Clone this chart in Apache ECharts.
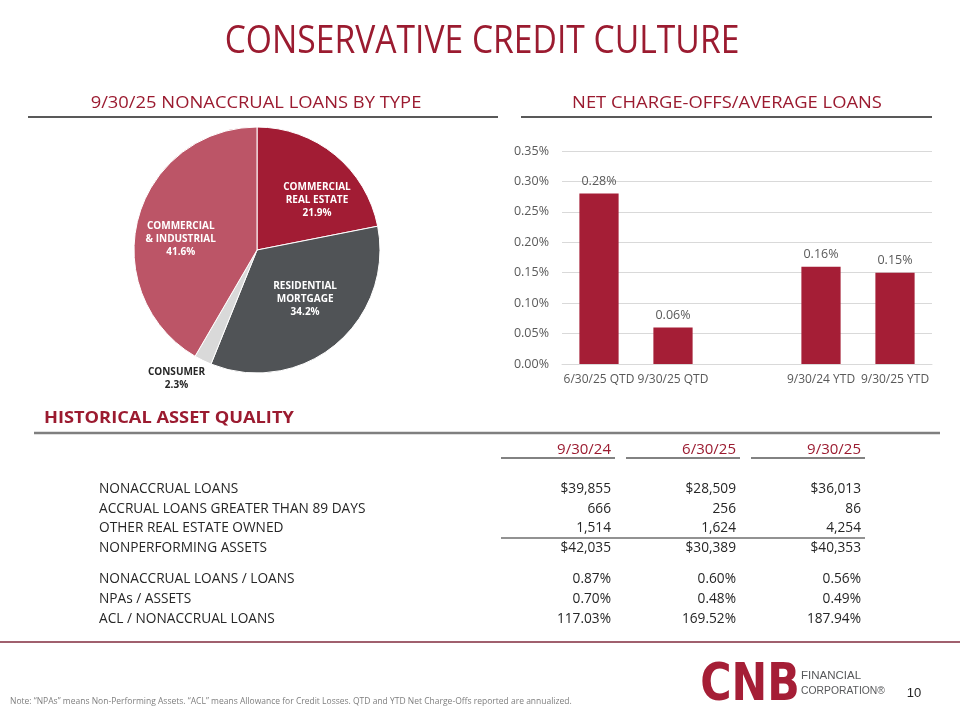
<!DOCTYPE html>
<html>
<head>
<meta charset="utf-8">
<script src="https://cdn.jsdelivr.net/npm/echarts@6/dist/echarts.min.js"></script>
<style>
  html, body { margin: 0; padding: 0; background: #fff; }
  #main { width: 960px; height: 720px; }
</style>
</head>
<body>
<div id="main"></div>
<script>
// pie: 9/30/25 nonaccrual loans by type (%)
var pieNames = ['COMMERCIAL\nREAL ESTATE', 'RESIDENTIAL\nMORTGAGE', 'CONSUMER', 'COMMERCIAL\n& INDUSTRIAL'];
var pieValues = [21.9, 34.2, 2.3, 41.6];
var pieColors = ['#a21c34', '#505356', '#d9d9d9', '#bc5567'];

// bars: net charge-offs / average loans (%)
var barCategories = ['6/30/25 QTD', '9/30/25 QTD', '', '9/30/24 YTD', '9/30/25 YTD'];
var barValues = [0.28, 0.06, null, 0.16, 0.15];

// historical asset quality table
var tableHeaders = ['9/30/24', '6/30/25', '9/30/25'];
var tableRows = [
  'NONACCRUAL LOANS',
  'ACCRUAL LOANS GREATER THAN 89 DAYS',
  'OTHER REAL ESTATE OWNED',
  'NONPERFORMING ASSETS',
  'NONACCRUAL LOANS / LOANS',
  'NPAs / ASSETS',
  'ACL / NONACCRUAL LOANS'
];
var col2024Q3 = ['$39,855', '666', '1,514', '$42,035', '0.87%', '0.70%', '117.03%'];
var col2025Q2 = ['$28,509', '256', '1,624', '$30,389', '0.60%', '0.48%', '169.52%'];
var col2025Q3 = ['$36,013', '86', '4,254', '$40,353', '0.56%', '0.49%', '187.94%'];

var RED = '#9b1b30';
var FONT = "'Open Sans', 'Noto Sans', sans-serif";
var ARIAL = "'Liberation Sans', Arial, sans-serif";
var pieCenter = [257, 250];

var chart = echarts.init(document.getElementById('main'));

function txt(x, y, s, opt) {
  opt = opt || {};
  return {
    type: 'text',
    scaleX: opt.scaleX || 1,
    originX: x, originY: y,
    style: {
      x: x, y: y, text: s,
      fill: opt.color || '#262626',
      font: (opt.weight || 'normal') + ' ' + (opt.size || 14) + 'px ' + (opt.family || FONT),
      textAlign: opt.align || 'left',
      textVerticalAlign: 'middle'
    }
  };
}
function line(x1, y1, x2, y2, color, w) {
  return {
    type: 'line',
    shape: { x1: x1, y1: y1, x2: x2, y2: y2 },
    style: { stroke: color, lineWidth: w }
  };
}

var graphics = [];
graphics.push(txt(482, 42, 'CONSERVATIVE CREDIT CULTURE', { color: RED, size: 38, scaleX: 0.885, align: 'center' }));
graphics.push(txt(256, 103, '9/30/25 NONACCRUAL LOANS BY TYPE', { color: RED, size: 17, scaleX: 1.08, align: 'center' }));
graphics.push(txt(727, 103, 'NET CHARGE-OFFS/AVERAGE LOANS', { color: RED, size: 17, scaleX: 1.08, align: 'center' }));
graphics.push(line(28, 117, 498, 117, '#595959', 2));
graphics.push(line(521, 117, 932, 117, '#595959', 2));

graphics.push(txt(44, 418, 'HISTORICAL ASSET QUALITY', { color: RED, size: 16, weight: 'bold', scaleX: 1.14 }));
graphics.push(line(34, 433, 940, 433, '#7f7f7f', 2.5));

var colRight = [611, 736, 861];
var cols = [col2024Q3, col2025Q2, col2025Q3];
var rowY = [489, 509, 528, 548, 579, 599, 619];
tableHeaders.forEach(function (h, i) {
  graphics.push(txt(colRight[i], 450, h, { color: RED, size: 15, align: 'right' }));
  graphics.push(line(colRight[i] - 110, 458, colRight[i] + 4, 458, '#595959', 1.5));
});
tableRows.forEach(function (r, j) {
  graphics.push(txt(99, rowY[j], r, { size: 13.7 }));
  cols.forEach(function (c, i) {
    graphics.push(txt(colRight[i], rowY[j], c[j], { size: 13.7, align: 'right' }));
  });
});
graphics.push(line(501, 538, 865, 538, '#262626', 1.2));

graphics.push(line(0, 642, 960, 642, '#a0606e', 2));
graphics.push(txt(10, 702, 'Note: \u201cNPAs\u201d means Non-Performing Assets. \u201cACL\u201d means Allowance for Credit Losses. QTD and YTD Net Charge-Offs reported are annualized.', { color: '#7f7f7f', size: 8.5 }));
graphics.push(txt(914, 693, '10', { size: 13, family: ARIAL, align: 'center' }));
graphics.push(txt(750, 686, 'CNB', { color: '#a51e36', size: 52, weight: 'bold', scaleX: 0.82, align: 'center', family: "'DejaVu Sans', sans-serif" }));
graphics.push(txt(801, 676, 'FINANCIAL', { color: '#58595b', size: 11.5, family: ARIAL }));
graphics.push(txt(801, 691, 'CORPORATION\u00ae', { color: '#58595b', size: 11.5, scaleX: 0.9, family: ARIAL }));

var pieData = pieNames.map(function (n, i) {
  var d = { name: n, value: pieValues[i], itemStyle: { color: pieColors[i] } };
  if (n === 'CONSUMER') {
    d.label = {
      position: 'outside',
      formatter: function (p) { return '{c|' + p.name + '}\n{c|' + p.value + '%}'; },
      rich: { c: { width: 62, align: 'center', color: '#262626', fontSize: 10, fontWeight: 'bold', lineHeight: 13 } }
    };
    d.labelLine = { show: false, length: 10, length2: 0 };
  }
  return d;
});

// small nudges so the inner labels sit where the original slide has them
var labelNudge = [[19, 0], [7, -1], [14, 9], [-14, 6]];

chart.setOption({
  animation: false,
  textStyle: { fontFamily: FONT },
  graphic: { elements: graphics },
  grid: { left: 562, right: 28, top: 151, bottom: 356 },
  xAxis: {
    type: 'category',
    data: barCategories,
    axisTick: { show: false },
    axisLine: { lineStyle: { color: '#d9d9d9', width: 1 } },
    axisLabel: { color: '#595959', fontSize: 12, margin: 10, interval: 0 }
  },
  yAxis: {
    type: 'value',
    min: 0, max: 0.35, interval: 0.05,
    axisLine: { show: false },
    axisTick: { show: false },
    splitLine: { lineStyle: { color: '#d9d9d9', width: 1 } },
    axisLabel: {
      color: '#595959', fontSize: 12.5, margin: 13,
      formatter: function (v) { return v.toFixed(2) + '%'; }
    }
  },
  series: [
    {
      type: 'bar',
      data: barValues,
      barWidth: '53%',
      itemStyle: { color: '#a51e36' },
      label: {
        show: true, position: 'top', distance: 6,
        color: '#595959', fontSize: 12.5,
        formatter: function (p) { return p.value.toFixed(2) + '%'; }
      }
    },
    {
      type: 'pie',
      center: pieCenter,
      radius: 123,
      startAngle: 90,
      clockwise: true,
      avoidLabelOverlap: false,
      data: pieData,
      itemStyle: { borderColor: '#fff', borderWidth: 1 },
      label: {
        show: true,
        position: 'inside',
        color: '#fff',
        fontSize: 10,
        fontWeight: 'bold',
        lineHeight: 13,
        formatter: function (p) { return p.name + '\n' + p.value + '%'; }
      },
      labelLayout: function (p) {
        var n = labelNudge[p.dataIndex];
        return { dx: n[0], dy: n[1] };
      }
    }
  ]
});
</script>
</body>
</html>
